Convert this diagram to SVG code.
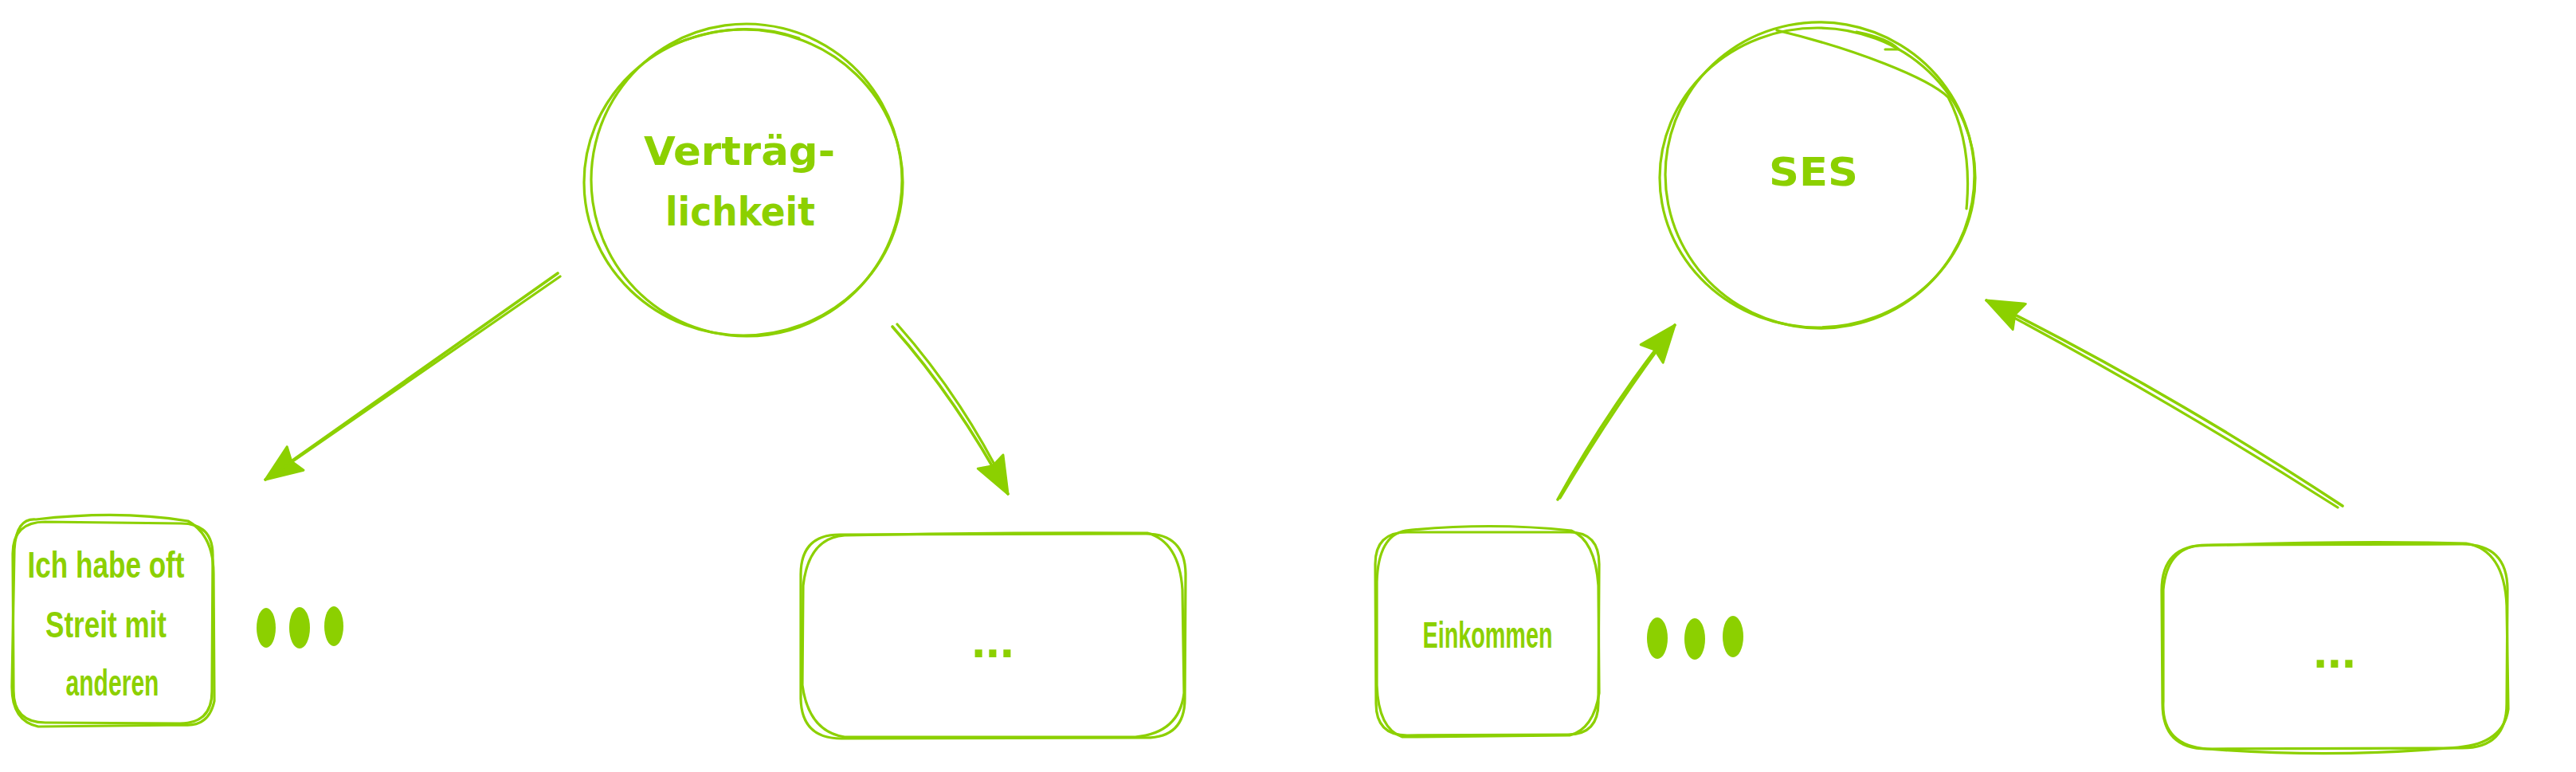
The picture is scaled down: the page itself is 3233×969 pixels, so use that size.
<svg xmlns="http://www.w3.org/2000/svg" width="3233" height="969" viewBox="0 0 3233 969">
<style>
.s{fill:none;stroke:#8cd000;stroke-width:3.2;stroke-linecap:round;stroke-linejoin:round}
.a{fill:none;stroke:#8cd000;stroke-width:3.6;stroke-linecap:round}
.d{fill:#8cd000}
.tc{font-family:"DejaVu Sans",sans-serif;font-weight:bold;font-size:50px;fill:#8cd000;text-anchor:middle}
.tb{font-family:"Liberation Sans",sans-serif;font-weight:bold;font-size:46px;fill:#8cd000;text-anchor:middle}
.dots{font-family:"Liberation Sans",sans-serif;font-weight:bold;font-size:64px;fill:#8cd000;text-anchor:middle}
</style>
<defs>
<marker id="head" markerUnits="userSpaceOnUse" orient="auto" refX="0" refY="0" markerWidth="60" markerHeight="60" overflow="visible">
<path d="M0,0 L-46,-18 L-40,0 L-46,18 Z" fill="#8cd000" stroke="#8cd000" stroke-width="3" stroke-linejoin="round"/>
</marker>
</defs>
<rect width="3233" height="969" fill="#ffffff"/>

<g id="connectors">
<path class="a" d="M700 343 Q 520 470 333 602" marker-end="url(#head)"/>
<path class="s" d="M703 347 Q 525 470 340 598"/>
<path class="a" d="M1120 410 Q 1200 500 1265 620" marker-end="url(#head)"/>
<path class="s" d="M1126 407 Q 1206 497 1262 610"/>
<path class="a" d="M1955 627 Q 2020 510 2102 408" marker-end="url(#head)"/>
<path class="s" d="M1958 625 Q 2025 512 2098 415"/>
<path class="a" d="M2940 635 Q 2720 490 2493 377" marker-end="url(#head)"/>
<path class="s" d="M2934 637 Q 2715 498 2500 384"/>
</g>

<g id="node-vertraeglichkeit">
<ellipse class="s" cx="933" cy="229" rx="200" ry="192"/>
<ellipse class="s" cx="937" cy="226" rx="195" ry="196" transform="rotate(-8 937 226)"/>
<path class="s" d="M847 55 Q 930 22 1003 48"/>
<text class="tc" x="928" y="207" textLength="240" lengthAdjust="spacingAndGlyphs">Verträg-</text>
<text class="tc" x="929" y="283" textLength="188" lengthAdjust="spacingAndGlyphs">lichkeit</text>
</g>

<g id="node-ses">
<ellipse class="s" cx="2281" cy="223" rx="198" ry="188"/>
<ellipse class="s" cx="2284" cy="220" rx="194" ry="192" transform="rotate(10 2284 220)"/>
<path class="s" d="M2230 38 C 2330 62 2420 98 2445 122 C 2470 170 2472 220 2468 262"/>
<path class="s" d="M2330 40 Q 2370 48 2383 62 L 2366 62"/>
<text class="tc" x="2276" y="233" textLength="112" lengthAdjust="spacingAndGlyphs">SES</text>
</g>

<g id="node-item1">
<path class="s" d="M57 655 L227 657 Q267 657 267 697 L266 868 Q266 908 226 908 L57 907 Q17 907 17 867 L16 695 Q16 655 57 655 Z"/>
<path class="s" d="M45 652 Q150 640 236 654 Q268 672 268 720 L269 880 Q262 912 232 910 L48 912 Q14 905 15 860 L18 690 Q20 650 45 652 Z"/>
<text class="tb" x="133" y="725" textLength="197" lengthAdjust="spacingAndGlyphs">Ich habe oft</text>
<text class="tb" x="133" y="800" textLength="152" lengthAdjust="spacingAndGlyphs">Streit mit</text>
<text class="tb" x="141" y="873" textLength="117" lengthAdjust="spacingAndGlyphs">anderen</text>
</g>

<g id="gap-dots-left">
<ellipse class="d" cx="334" cy="788" rx="12" ry="25"/>
<ellipse class="d" cx="376" cy="788" rx="13" ry="26"/>
<ellipse class="d" cx="419" cy="786" rx="12" ry="25"/>
</g>

<g id="node-item2">
<path class="s" d="M1054 671 L1438 670 Q1487 670 1488 720 L1487 877 Q1487 926 1438 926 L1056 927 Q1006 927 1005 877 L1005 721 Q1005 671 1054 671 Z"/>
<path class="s" d="M1060 672 Q1250 668 1440 669 Q1480 680 1484 740 L1486 870 Q1480 920 1425 925 L1060 925 Q1015 918 1007 860 L1008 735 Q1015 675 1060 672 Z"/>
<text class="dots" x="1246" y="825">...</text>
</g>

<g id="node-einkommen">
<path class="s" d="M1766 668 L1970 668 Q2007 668 2007 708 L2006 882 Q2006 922 1968 922 L1766 923 Q1727 923 1727 883 L1726 708 Q1726 668 1766 668 Z"/>
<path class="s" d="M1764 666 Q1870 655 1972 666 Q2002 678 2006 735 L2007 870 Q2000 915 1970 923 L1760 925 Q1730 915 1728 860 L1728 730 Q1730 672 1764 666 Z"/>
<text class="tb" x="1867" y="813" textLength="163" lengthAdjust="spacingAndGlyphs">Einkommen</text>
</g>

<g id="gap-dots-right">
<ellipse class="d" cx="2080" cy="801" rx="13" ry="26"/>
<ellipse class="d" cx="2127" cy="802" rx="13" ry="26"/>
<ellipse class="d" cx="2175" cy="799" rx="13" ry="26"/>
</g>

<g id="node-item4">
<path class="s" d="M2770 684 L3090 683 Q3147 683 3147 740 L3146 883 Q3146 939 3090 939 L2770 940 Q2714 940 2714 883 L2713 741 Q2713 684 2770 684 Z"/>
<path class="s" d="M2760 685 Q2950 678 3095 682 Q3143 690 3146 760 L3148 890 Q3142 933 3085 938 Q2930 952 2770 940 Q2712 936 2715 880 L2715 740 Q2720 688 2760 685 Z"/>
<text class="dots" x="2930" y="838">...</text>
</g>
</svg>
